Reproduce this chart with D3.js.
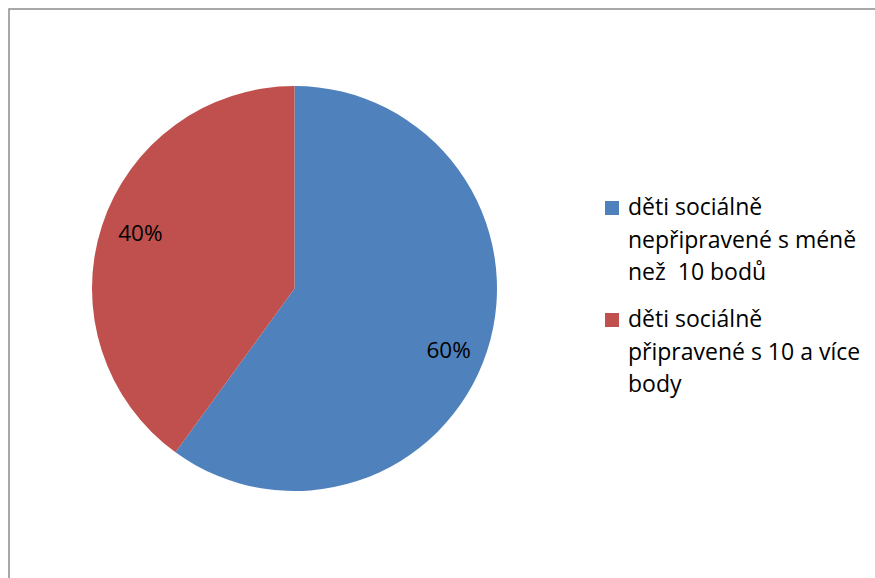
<!DOCTYPE html>
<html>
<head>
<meta charset="utf-8">
<script src="https://cdn.jsdelivr.net/npm/d3@7"></script>
<style>
  html, body { margin: 0; padding: 0; background: #ffffff; }
  svg text { font-family: "Open Sans", Lato, sans-serif; fill: #000; }
</style>
</head>
<body>
<svg id="chart" width="875" height="578"></svg>
<script>
// Share of children by social readiness score
const categories = [
  ["děti sociálně", "nepřipravené s méně", "než  10 bodů"],
  ["děti sociálně", "připravené s 10 a více", "body"]
];
const values = [60, 40];
const labels = ["60%", "40%"];
const colors = ["#4F81BD", "#C0504D"];

const svg = d3.select("#chart");
const W = 875, H = 578;

// chart frame
svg.append("path")
  .attr("d", `M9,${H + 5} V9 H${W + 5}`)
  .attr("fill", "none")
  .attr("stroke", "#8c8c8c")
  .attr("stroke-width", 1.5);

const cx = 294.5, cy = 288.5, r = 202.5;

const pie = d3.pie().sort(null).value(d => d)(values);
const arc = d3.arc().innerRadius(0).outerRadius(r);
const labelArc = d3.arc().innerRadius(r * 0.8).outerRadius(r * 0.8);
// slight vertical nudge of the percentage labels
const labelShift = [11, -6];

const g = svg.append("g").attr("transform", `translate(${cx},${cy})`);
g.selectAll("path.slice")
  .data(pie)
  .join("path")
  .attr("class", "slice")
  .attr("d", arc)
  .attr("fill", (d, i) => colors[i]);

g.selectAll("text.pct")
  .data(pie)
  .join("text")
  .attr("class", "pct")
  .attr("transform", (d, i) => { const c = labelArc.centroid(d); return `translate(${c[0]},${c[1] + labelShift[i]})`; })
  .attr("text-anchor", "middle")
  .attr("dy", "0.36em")
  .style("font-size", "22.5px")
  .text((d, i) => labels[i]);

// legend
const legendTops = [201, 313];
const lg = svg.append("g");
categories.forEach((lines, i) => {
  lg.append("rect")
    .attr("x", 605).attr("y", legendTops[i])
    .attr("width", 14).attr("height", 14)
    .attr("fill", colors[i]);
  const t = lg.append("text")
    .attr("x", 628).attr("y", legendTops[i] + 14)
    .style("font-size", "23px")
    .attr("xml:space", "preserve");
  lines.forEach((s, j) => {
    t.append("tspan").attr("x", 628).attr("dy", j === 0 ? 0 : 32.5).text(s);
  });
});
</script>
</body>
</html>
